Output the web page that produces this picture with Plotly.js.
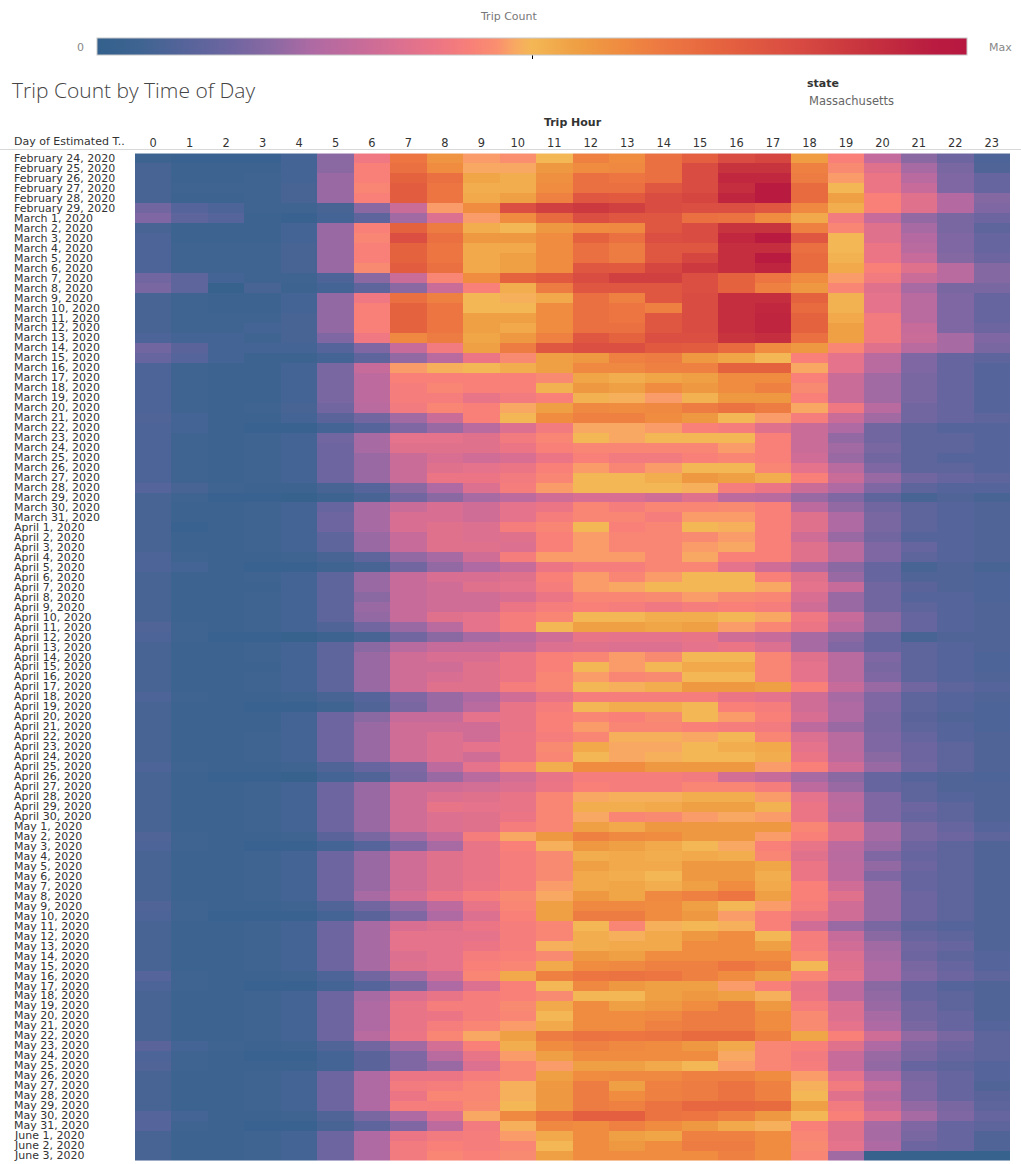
<!DOCTYPE html>
<html>
<head>
<meta charset="utf-8">
<script src="https://cdn.plot.ly/plotly-3.0.1.min.js"></script>
<style>html,body{margin:0;padding:0;background:#fff;}#chart{width:1021px;height:1164px;}</style>
</head>
<body>
<div id="chart"></div>
<script>
// ---- data ----
const hours = [0,1,2,3,4,5,6,7,8,9,10,11,12,13,14,15,16,17,18,19,20,21,22,23];
const monthNames = ["February","March","April","May","June"];
const monthFirstDay = [24,1,1,1,1];
const monthLastDay = [29,31,30,31,3];

// relative trip count (0 = none, 100 = max), one row per day, one column per hour
const tripFeb = [
[4,3,3,3,6,20,40,66,58,47,46,50,63,60,68,73,80,82,56,43,29,20,15,8],
[7,4,4,4,6,20,43,68,60,48,48,57,60,61,68,80,88,88,63,45,36,24,17,9],
[7,4,4,5,6,22,43,72,68,54,52,59,68,66,68,80,92,92,64,47,39,27,18,14],
[7,5,5,5,7,22,44,74,66,52,52,60,68,68,76,80,90,97,69,50,39,30,18,14],
[7,4,4,5,7,22,43,74,66,53,55,63,76,75,80,82,93,97,69,55,43,36,26,19],
[16,10,8,5,5,7,20,31,47,60,79,84,86,84,80,79,79,76,61,52,43,36,26,18]
];
const tripMar = [
[18,12,10,4,3,6,12,23,35,47,60,69,79,76,76,68,67,60,53,41,30,21,17,15],
[7,4,4,4,6,22,43,72,64,52,50,57,60,61,76,80,88,88,63,44,36,24,17,12],
[8,4,4,4,6,22,44,79,68,57,57,60,72,68,79,80,92,97,76,50,36,26,18,14],
[8,5,5,5,7,22,43,72,66,53,53,60,68,64,76,76,90,90,68,50,39,27,18,14],
[8,5,5,5,7,22,43,72,66,53,55,60,68,64,76,82,90,98,69,51,39,30,19,15],
[8,5,5,5,7,22,45,74,68,53,55,60,76,75,82,86,90,93,69,53,43,36,27,19],
[16,12,6,5,5,8,20,31,44,60,72,75,80,84,84,79,72,66,60,47,41,31,27,19],
[17,12,2,7,4,6,12,20,31,43,52,64,76,76,76,79,72,63,57,44,36,24,17,17],
[7,5,4,4,6,21,40,68,63,50,49,53,68,63,76,80,90,90,72,51,37,27,18,14],
[7,5,4,4,6,21,43,72,66,50,50,60,68,66,63,80,90,92,69,51,37,27,18,14],
[7,5,5,5,7,21,43,72,66,55,55,60,68,66,76,80,90,93,72,53,41,27,18,14],
[7,5,5,6,7,21,43,72,66,55,53,60,68,68,76,80,90,93,72,55,41,30,18,15],
[8,6,6,5,7,18,40,61,64,54,57,63,76,72,79,79,88,90,68,55,41,31,24,18],
[16,11,6,6,6,10,18,30,41,55,64,76,79,79,75,74,69,60,57,44,36,27,24,17],
[14,10,6,4,4,6,12,21,27,39,45,55,57,63,64,57,54,50,43,37,27,18,14,12],
[8,5,4,4,6,17,30,47,49,50,52,55,61,61,63,63,72,72,48,37,27,18,14,10],
[8,5,4,4,6,17,28,43,43,43,43,45,54,52,54,55,60,60,43,31,23,17,14,10],
[8,5,4,4,6,17,28,42,44,43,43,51,57,55,60,57,60,63,45,31,23,17,14,10],
[8,5,4,4,6,17,28,42,42,38,41,43,51,49,47,51,57,57,43,31,23,17,14,10],
[8,5,4,5,7,16,27,41,44,43,48,55,61,60,61,64,67,64,48,40,27,16,14,10],
[9,6,4,4,6,11,16,23,31,43,50,60,63,63,60,57,50,47,42,31,23,16,14,12],
[8,6,4,3,3,6,10,18,22,27,35,41,48,48,47,43,42,36,31,25,16,12,10,10],
[8,5,4,5,6,16,24,37,37,36,41,44,50,48,50,50,50,43,31,21,16,12,12,10],
[8,5,4,5,6,15,24,36,36,36,39,43,44,44,44,44,47,43,31,23,17,12,12,10],
[8,5,4,5,6,15,22,31,34,32,34,39,43,41,41,43,44,43,32,22,16,12,10,10],
[8,5,4,5,6,15,22,31,36,37,39,43,47,44,47,50,50,44,37,27,18,12,12,10],
[8,5,4,5,6,15,22,31,39,39,41,44,50,50,52,57,55,52,43,31,22,16,14,12],
[10,7,5,4,4,7,10,20,25,35,42,47,50,50,50,49,42,39,31,25,18,12,10,10],
[7,5,3,3,2,4,7,16,20,24,28,32,34,34,32,36,28,27,22,18,12,7,9,7],
[7,4,4,5,6,14,24,31,34,32,37,39,44,42,44,44,45,43,28,21,16,12,10,9],
[7,4,4,5,6,15,24,34,34,32,37,42,44,44,42,47,47,43,36,25,17,12,10,9]
];
const tripApr = [
[7,3,4,5,6,15,24,34,36,35,42,44,50,43,44,50,49,43,36,25,17,12,10,9],
[7,4,4,5,6,12,22,30,36,35,36,43,47,44,44,45,47,43,32,22,16,10,10,9],
[7,4,4,5,6,12,22,30,36,36,35,43,47,44,44,47,48,43,36,27,18,14,10,9],
[8,5,4,4,5,7,12,21,24,32,42,47,47,47,44,48,43,43,36,27,18,12,10,9],
[8,6,4,3,3,5,7,16,21,25,30,39,42,42,44,44,37,32,25,20,14,7,9,7],
[7,4,4,5,6,12,22,30,34,34,36,43,47,44,47,50,50,43,36,22,14,9,9,8],
[7,4,4,4,6,12,22,30,32,36,37,42,47,48,50,50,50,48,37,30,16,11,9,8],
[7,4,4,5,6,12,20,30,32,32,34,39,44,44,45,47,45,44,34,22,16,10,10,8],
[7,4,4,5,6,12,22,30,32,32,39,42,43,42,40,42,43,42,32,22,16,12,10,9],
[7,4,4,5,6,12,21,30,36,37,42,44,50,50,52,52,50,48,40,30,20,14,10,9],
[9,5,4,5,6,9,16,22,27,37,42,50,55,55,54,55,47,44,39,28,20,14,10,9],
[8,5,3,3,2,4,7,16,20,24,28,32,38,37,37,38,32,30,24,20,14,7,9,9],
[7,4,4,5,6,12,20,27,30,30,30,35,36,35,35,37,39,35,24,18,14,12,10,9],
[7,4,4,5,6,12,22,32,34,34,39,43,44,47,45,50,50,44,36,27,18,12,10,8],
[7,4,4,4,6,12,22,32,32,36,39,43,50,47,50,53,53,44,37,27,17,12,10,8],
[7,4,4,5,6,12,22,32,34,36,39,44,47,44,45,50,50,44,37,27,18,12,10,9],
[7,4,4,5,6,12,22,32,36,36,42,44,50,49,52,57,57,55,43,30,22,16,12,10],
[8,5,4,4,5,7,10,18,22,25,32,38,42,42,42,42,39,37,32,24,18,12,10,9],
[7,4,4,3,3,5,9,17,22,27,38,42,50,52,52,50,43,42,32,25,18,12,10,8],
[7,4,4,4,6,15,20,30,30,37,38,43,44,43,45,50,47,43,34,25,17,11,9,8],
[7,4,4,4,6,15,22,32,32,32,38,43,47,44,44,43,42,41,28,22,17,12,10,8],
[7,4,4,5,6,15,22,32,35,32,39,42,44,49,49,48,50,44,35,27,18,14,10,9],
[7,4,4,5,6,15,22,32,35,37,39,45,53,48,48,50,52,53,37,27,18,15,12,9],
[7,4,4,5,6,15,22,32,35,32,39,44,50,48,49,50,50,52,39,28,20,15,12,9],
[8,5,4,4,5,9,14,18,28,37,44,52,60,60,57,57,57,47,43,32,22,16,12,9],
[7,4,3,3,2,6,9,17,22,27,33,38,42,42,42,41,33,30,24,20,14,10,9,8],
[7,4,4,5,6,15,22,32,32,33,35,39,43,42,42,44,44,42,28,22,14,12,9,9],
[7,4,4,5,6,15,22,32,35,36,38,44,48,49,49,52,52,47,37,27,18,12,10,9],
[7,4,4,5,6,15,22,32,38,37,38,44,52,52,53,55,55,51,39,28,18,15,12,9],
[7,4,4,5,6,15,22,32,35,36,39,44,48,44,45,47,48,47,39,27,18,14,12,9]
];
const tripMay = [
[7,4,4,5,6,15,22,32,35,36,42,44,55,53,57,57,57,57,44,36,24,17,14,10],
[9,5,4,4,5,11,17,24,30,42,48,57,63,61,60,57,57,47,43,36,24,17,15,12],
[8,5,4,3,3,6,10,18,24,38,43,49,57,55,53,50,48,43,38,28,22,15,12,9],
[7,4,4,5,6,15,22,32,36,38,42,45,52,53,52,53,52,44,36,27,18,14,12,9],
[7,4,4,5,6,15,22,32,36,38,42,45,55,53,53,57,57,54,39,28,21,15,12,9],
[7,4,4,5,6,15,22,32,36,38,42,45,53,52,50,57,57,52,39,28,18,14,12,9],
[7,4,4,5,6,15,22,32,36,39,42,47,53,54,52,55,60,53,43,32,22,14,12,9],
[7,4,4,5,6,15,24,34,39,42,45,48,57,54,61,63,66,55,43,36,22,15,12,9],
[9,5,4,4,5,9,16,22,28,38,44,55,61,61,60,55,50,47,42,32,22,15,12,9],
[8,5,3,3,3,6,11,18,25,35,43,55,64,64,60,57,47,43,39,32,22,15,12,9],
[7,4,4,5,6,15,24,34,36,39,42,44,50,44,49,50,49,43,32,22,17,12,10,9],
[7,4,4,5,6,15,24,37,37,37,42,44,52,49,53,57,60,50,42,30,20,14,12,9],
[7,4,4,5,6,15,24,37,37,39,42,49,52,53,53,60,60,55,42,32,23,16,14,9],
[7,4,4,5,6,15,24,35,37,42,43,45,57,55,60,60,60,60,44,35,24,15,12,10],
[7,4,4,5,6,15,24,36,37,43,44,53,60,61,63,63,66,63,50,36,25,17,14,10],
[10,5,4,4,5,8,16,24,32,44,53,63,66,67,66,63,60,55,44,37,25,18,15,12],
[8,5,4,3,3,6,10,17,25,35,43,50,61,57,55,55,47,43,38,28,20,14,10,9],
[7,4,4,5,6,15,24,35,38,42,43,45,50,50,55,57,55,49,39,28,21,14,12,9],
[7,4,4,5,6,15,25,38,42,42,45,53,60,55,57,60,64,57,42,35,22,16,12,9],
[7,4,4,5,6,15,25,38,39,42,44,50,60,60,61,64,64,60,45,35,24,16,14,9],
[7,4,4,5,6,15,25,38,42,44,47,53,60,60,63,64,64,60,45,37,25,17,14,10],
[7,4,4,5,6,15,27,39,44,48,55,64,67,66,67,69,69,63,54,43,32,21,17,12],
[11,6,5,4,5,9,16,23,33,43,52,60,63,61,60,57,53,44,43,36,25,18,15,12],
[8,5,4,3,3,6,11,18,27,38,47,55,60,60,60,60,48,44,41,30,22,17,14,12],
[9,5,4,4,4,6,11,18,22,35,44,47,55,55,53,50,47,44,42,30,21,14,12,10],
[7,4,4,5,6,15,25,39,39,42,44,55,60,61,61,63,63,60,47,37,25,17,14,10],
[7,4,4,5,6,15,25,41,42,44,49,57,64,55,63,64,67,63,49,41,30,18,14,9],
[7,4,4,5,6,15,25,39,44,44,49,57,64,60,63,64,67,63,50,36,27,18,14,11],
[7,4,4,5,6,15,25,42,42,45,50,57,64,63,67,70,70,69,55,41,30,21,17,12],
[10,6,4,4,5,9,17,25,35,48,61,67,73,73,67,66,63,57,50,43,35,24,18,14],
[10,5,4,3,3,7,12,18,28,41,49,61,60,63,60,57,53,49,43,36,24,18,14,12]
];
const tripJun = [
[7,4,4,5,6,15,25,39,41,42,47,53,60,55,54,63,63,60,44,36,24,17,14,9],
[7,4,4,5,6,15,25,41,43,42,44,50,60,57,60,64,64,60,45,37,25,15,14,9],
[7,4,4,5,6,15,25,41,44,43,45,55,60,60,60,60,63,60,44,23,2,2,2,2]
];

// ---- build categories ----
const dayLabels = [];
monthNames.forEach(function(m, i){
  for (let d = monthFirstDay[i]; d <= monthLastDay[i]; d++) dayLabels.push(m + " " + d + ", 2020");
});
const z = [].concat(tripFeb, tripMar, tripApr, tripMay, tripJun);

// ---- layout constants ----
const W = 1021, H = 1164, ML = 135, MR = 11, MT = 150, MB = 0;
const PW = W - ML - MR, PH = H - MT - MB;
const px = function(x){ return (x - ML) / PW; };
const py = function(y){ return 1 + (MT - y) / PH; };

const colorscale = [
  [0.00,'#33608c'],[0.05,'#3f6492'],[0.10,'#55649a'],[0.15,'#6c65a0'],
  [0.20,'#8a69a3'],[0.25,'#b06aa3'],[0.30,'#c66b9a'],[0.35,'#dc7090'],
  [0.39,'#ec7585'],[0.43,'#f88078'],[0.46,'#fa8f6f'],[0.48,'#f8a862'],
  [0.50,'#f4b755'],[0.55,'#efa044'],[0.60,'#ef8c40'],[0.65,'#ed7842'],
  [0.72,'#e5623f'],[0.80,'#d94c42'],[0.88,'#c8343e'],[0.96,'#b91c40'],[1.00,'#b81840']
];

const rowFont = {family:'DejaVu Sans, sans-serif', size:11, color:'#333'};

const annotations = dayLabels.map(function(lbl){
  return {xref:'paper', yref:'y', x:px(12), y:lbl, xanchor:'left', yanchor:'middle',
          text:lbl, showarrow:false, font:rowFont};
});
annotations.push(
  {xref:'paper', yref:'paper', x:px(12), y:py(141), xanchor:'left', yanchor:'middle',
   text:'Day of Estimated T..', showarrow:false, font:rowFont},
  {xref:'paper', yref:'paper', x:px(509), y:py(16), xanchor:'center', yanchor:'middle',
   text:'Trip Count', showarrow:false, font:{family:'DejaVu Sans, sans-serif', size:11, color:'#777'}},
  {xref:'paper', yref:'paper', x:px(80), y:py(48), xanchor:'center', yanchor:'middle',
   text:'0', showarrow:false, font:{family:'DejaVu Sans, sans-serif', size:11, color:'#888'}},
  {xref:'paper', yref:'paper', x:px(1000), y:py(48), xanchor:'center', yanchor:'middle',
   text:'Max', showarrow:false, font:{family:'DejaVu Sans, sans-serif', size:11, color:'#888'}},
  {xref:'paper', yref:'paper', x:px(805), y:py(84), xanchor:'left', yanchor:'middle',
   text:'<b>state</b>', showarrow:false, font:{family:'DejaVu Sans, sans-serif', size:11, color:'#333'}},
  {xref:'paper', yref:'paper', x:px(807), y:py(101), xanchor:'left', yanchor:'middle',
   text:'Massachusetts', showarrow:false, font:{family:'DejaVu Sans, sans-serif', size:11.5, color:'#666'}}
);

const trace = {
  type:'heatmap', x:hours, y:dayLabels, z:z, zmin:0, zmax:100,
  colorscale:colorscale, xgap:0, ygap:0, hoverongaps:false,
  colorbar:{orientation:'h', x:px(532), xanchor:'center', y:py(38), yanchor:'top',
    lenmode:'pixels', len:870, thicknessmode:'pixels', thickness:17,
    xpad:0, ypad:0, outlinewidth:1, outlinecolor:'#c8c8c8',
    tickvals:[50], ticks:'outside', ticklen:4, tickcolor:'#000', showticklabels:false}
};

const layout = {
  width:W, height:H,
  margin:{l:ML, r:MR, t:MT, b:MB, pad:0},
  paper_bgcolor:'#fff', plot_bgcolor:'#fff',
  font:{family:'DejaVu Sans, sans-serif', size:11, color:'#333'},
  title:{text:'Trip Count by Time of Day', xref:'container', yref:'container',
    x:12/W, xanchor:'left', y:1-91/H, yanchor:'middle',
    font:{family:'Open Sans, sans-serif', size:21, color:'#444', weight:300}},
  xaxis:{side:'top', type:'linear', range:[-0.5,23.5], tickvals:hours,
    ticktext:hours.map(String), ticks:'', ticklen:0, showgrid:false, zeroline:false, showline:false,
    tickfont:{family:'DejaVu Sans, sans-serif', size:11.4, color:'#333'},
    title:{text:'Trip Hour', standoff:6, font:{family:'DejaVu Sans, sans-serif', size:11, color:'#333', weight:600}}},
  yaxis:{type:'category', autorange:'reversed', showticklabels:false, ticks:'',
    showgrid:false, zeroline:false, showline:false},
  annotations:annotations,
  shapes:[{type:'line', xref:'paper', yref:'paper', x0:px(0), x1:px(1021), y0:py(149.5), y1:py(149.5),
    line:{color:'#d8d8d8', width:1}}]
};

Plotly.newPlot('chart', [trace], layout, {displayModeBar:false, staticPlot:true});
</script>
</body>
</html>
